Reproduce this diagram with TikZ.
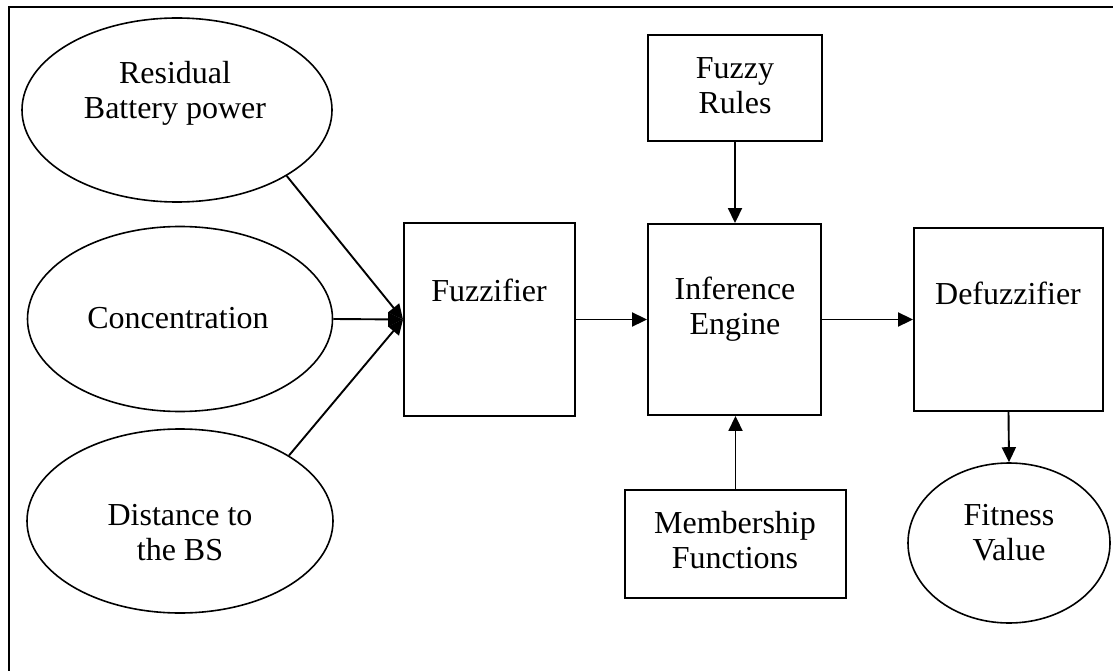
\documentclass[tikz,border=0pt]{standalone}
\usepackage{fontspec}
\setmainfont{Liberation Serif}
\usetikzlibrary{arrows.meta,shapes.geometric}
\begin{document}
\begin{tikzpicture}[x=1pt,y=-1pt,line width=1.9pt,
  box/.style={draw,rectangle,inner sep=0pt},
  oval/.style={draw,ellipse,inner sep=0pt,line width=1.6pt},
  lbl/.style={align=center,font=\fontsize{32}{35}\selectfont,inner sep=0pt},
  arr/.style={-{Triangle[length=15pt,width=14pt]}}]
\useasboundingbox (0,0) rectangle (1113,671);

% frame (left and top edges)
\draw (9,671) -- (9,7) -- (1113,7);

% inputs
\node[oval,minimum width=310pt,minimum height=184pt] (rbp) at (177,110) {};
\node[lbl] (rbpt) at (175,93) {Residual\\Battery power};
\node[oval,minimum width=305pt,minimum height=185pt] (conc) at (180,319) {};
\node[lbl] (conct) at (178,318) {Concentration};
\node[oval,minimum width=306pt,minimum height=184pt] (dist) at (180,521) {};
\node[lbl] (distt) at (180,533) {Distance to\\the BS};

% processing blocks
\node[box,minimum width=171pt,minimum height=193pt] (fz) at (489.5,319.5) {};
\node[lbl] (fzt) at (489,290) {Fuzzifier};
\node[box,minimum width=173pt,minimum height=191pt] (ie) at (734.5,319.5) {};
\node[lbl] (iet) at (735,309) {Inference\\Engine};
\node[box,minimum width=189pt,minimum height=183pt] (df) at (1008.5,319.5) {};
\node[lbl] (dft) at (1008,293) {Defuzzifier};
\node[box,minimum width=174pt,minimum height=106pt] (fr) at (735,88) {};
\node[lbl] (frt) at (735,86) {Fuzzy\\Rules};
\node[box,minimum width=221pt,minimum height=108pt] (mf) at (735.5,544) {};
\node[lbl] (mft) at (735,540) {Membership\\Functions};

% output
\node[oval,minimum width=202pt,minimum height=160pt] (fv) at (1009,543) {};
\node[lbl] (fvt) at (1009,533) {Fitness\\Value};

% connectors
\draw[arr] (rbp.-31) -- (fz.west);
\draw[arr] (conc.east) -- (fz.west);
\draw[arr] (dist.31) -- (fz.west);
\draw[arr] (fz.east) -- (ie.west);
\draw[arr] (ie.east) -- (df.west);
\draw[arr] (fr.south) -- (fr.south |- ie.north);
\draw[arr] (mf.north) -- (mf.north |- ie.south);
\draw[arr] (df.south) -- (fv.north);
\end{tikzpicture}
\end{document}
